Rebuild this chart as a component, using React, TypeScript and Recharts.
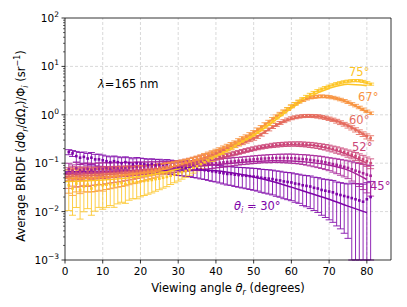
import React from "react";
import { ComposedChart, Line, Scatter, ErrorBar, XAxis, YAxis, ReferenceLine, Customized } from "recharts";

const FONT = "DejaVu Sans, sans-serif";
const Y_MIN = 0.001;
const Y_MAX = 100;
const X_MAX = 86.4;

// viewing angles of the measured points (1..81 deg) and of the model curves
const VIEW_ANGLES = Array.from({ length: 81 }, (_, i) => i + 1);
const MODEL_ANGLES = [0, 5, 10, 15, 20, 25, 30, 35, 40, 45, 50, 55, 60, 65, 70, 75, 80];

const X_TICKS = [0, 10, 20, 30, 40, 50, 60, 70, 80];
const Y_MAJOR = [0.001, 0.01, 0.1, 1, 10, 100];
const Y_MINOR = [
  0.002, 0.003, 0.004, 0.005, 0.006, 0.007, 0.008, 0.009,
  0.02, 0.03, 0.04, 0.05, 0.06, 0.07, 0.08, 0.09,
  0.2, 0.3, 0.4, 0.5, 0.6, 0.7, 0.8, 0.9,
  2, 3, 4, 5, 6, 7, 8, 9,
  20, 30, 40, 50, 60, 70, 80, 90,
];

// theta_i = 30
const BRIDF_30 = [
  0.17, 0.16, 0.14, 0.13, 0.135, 0.125, 0.13, 0.12, 0.12, 0.115,
  0.11, 0.105, 0.11, 0.105, 0.1, 0.105, 0.1, 0.095, 0.1, 0.098,
  0.095, 0.092, 0.095, 0.09, 0.092, 0.088, 0.09, 0.087, 0.085, 0.083,
  0.082, 0.08, 0.08, 0.078, 0.076, 0.074, 0.072, 0.07, 0.068, 0.066,
  0.064, 0.062, 0.06, 0.06, 0.058, 0.057, 0.056, 0.055, 0.054, 0.053,
  0.052, 0.05, 0.049, 0.048, 0.047, 0.045, 0.044, 0.042, 0.041, 0.04,
  0.038, 0.037, 0.035, 0.034, 0.033, 0.031, 0.03, 0.028, 0.027, 0.026,
  0.025, 0.023, 0.022, 0.021, 0.02, 0.019, 0.018, 0.017, 0.016, 0.018, 0.02,
];
const ERR_30 = [
  0.12, 0.14, 0.25, 0.28, 0.26, 0.27, 0.28, 0.27, 0.28, 0.28,
  0.28, 0.29, 0.28, 0.29, 0.3, 0.29, 0.3, 0.3, 0.31, 0.3,
  0.31, 0.31, 0.3, 0.32, 0.31, 0.32, 0.32, 0.33, 0.32, 0.33,
  0.33, 0.34, 0.34, 0.35, 0.35, 0.36, 0.36, 0.37, 0.38, 0.38,
  0.39, 0.4, 0.41, 0.42, 0.43, 0.44, 0.45, 0.46, 0.47, 0.48,
  0.49, 0.5, 0.51, 0.52, 0.53, 0.54, 0.55, 0.56, 0.57, 0.58,
  0.59, 0.6, 0.62, 0.63, 0.65, 0.66, 0.68, 0.7, 0.72, 0.74,
  0.76, 0.78, 0.8, 0.83, 0.86, 1.05, 1.1, 1.2, 1.3, 1.2, 1.1,
];
const MODEL_30 = [0.066, 0.067, 0.068, 0.069, 0.07, 0.071, 0.072, 0.072, 0.07, 0.062, 0.052, 0.042, 0.032, 0.024, 0.018, 0.013, 0.0095];

// theta_i = 45
const BRIDF_45 = [
  0.075, 0.07, 0.078, 0.072, 0.074, 0.076, 0.073, 0.075, 0.077, 0.076,
  0.078, 0.077, 0.079, 0.078, 0.08, 0.079, 0.081, 0.08, 0.082, 0.081,
  0.083, 0.082, 0.084, 0.083, 0.085, 0.084, 0.086, 0.085, 0.087, 0.088,
  0.089, 0.09, 0.091, 0.092, 0.093, 0.094, 0.095, 0.097, 0.098, 0.1,
  0.102, 0.104, 0.106, 0.108, 0.11, 0.112, 0.114, 0.116, 0.118, 0.12,
  0.122, 0.124, 0.125, 0.126, 0.127, 0.128, 0.128, 0.128, 0.128, 0.127,
  0.126, 0.124, 0.122, 0.12, 0.117, 0.114, 0.111, 0.108, 0.104, 0.1,
  0.096, 0.092, 0.088, 0.084, 0.08, 0.075, 0.07, 0.066, 0.062, 0.058, 0.055,
];
const ERR_45 = [
  0.33, 0.32, 0.34, 0.33, 0.32, 0.33, 0.34, 0.33, 0.32, 0.33,
  0.32, 0.31, 0.32, 0.31, 0.3, 0.31, 0.3, 0.29, 0.3, 0.29,
  0.28, 0.29, 0.28, 0.27, 0.28, 0.27, 0.26, 0.27, 0.26, 0.25,
  0.25, 0.24, 0.24, 0.23, 0.23, 0.22, 0.22, 0.21, 0.21, 0.2,
  0.2, 0.2, 0.19, 0.19, 0.19, 0.18, 0.18, 0.18, 0.18, 0.18,
  0.18, 0.18, 0.18, 0.19, 0.19, 0.19, 0.2, 0.2, 0.21, 0.21,
  0.22, 0.22, 0.23, 0.24, 0.25, 0.26, 0.27, 0.28, 0.29, 0.3,
  0.32, 0.34, 0.36, 0.38, 0.4, 0.43, 0.46, 0.5, 0.54, 0.58, 0.62,
];
const MODEL_45 = [0.062, 0.064, 0.066, 0.069, 0.072, 0.076, 0.08, 0.086, 0.093, 0.101, 0.108, 0.112, 0.111, 0.104, 0.091, 0.072, 0.046];

// theta_i = 52
const BRIDF_52 = [
  0.062, 0.066, 0.064, 0.065, 0.063, 0.066, 0.064, 0.065, 0.066, 0.067,
  0.067, 0.068, 0.068, 0.069, 0.07, 0.07, 0.071, 0.072, 0.073, 0.074,
  0.075, 0.076, 0.077, 0.078, 0.08, 0.081, 0.083, 0.085, 0.087, 0.089,
  0.091, 0.094, 0.097, 0.1, 0.104, 0.108, 0.112, 0.117, 0.122, 0.128,
  0.134, 0.14, 0.147, 0.154, 0.161, 0.168, 0.176, 0.184, 0.192, 0.2,
  0.208, 0.215, 0.222, 0.228, 0.234, 0.239, 0.243, 0.246, 0.248, 0.25,
  0.25, 0.249, 0.247, 0.244, 0.24, 0.235, 0.229, 0.222, 0.215, 0.207,
  0.198, 0.189, 0.18, 0.17, 0.16, 0.15, 0.14, 0.13, 0.12, 0.11, 0.1,
];
const ERR_52 = [
  0.3, 0.28, 0.3, 0.29, 0.3, 0.28, 0.29, 0.28, 0.27, 0.28,
  0.27, 0.26, 0.26, 0.25, 0.25, 0.24, 0.24, 0.23, 0.22, 0.22,
  0.21, 0.21, 0.2, 0.19, 0.19, 0.18, 0.17, 0.17, 0.16, 0.15,
  0.15, 0.14, 0.14, 0.13, 0.13, 0.12, 0.12, 0.11, 0.11, 0.1,
  0.1, 0.1, 0.09, 0.09, 0.09, 0.09, 0.09, 0.09, 0.09, 0.09,
  0.09, 0.09, 0.09, 0.09, 0.1, 0.1, 0.1, 0.1, 0.1, 0.1,
  0.1, 0.11, 0.11, 0.11, 0.12, 0.12, 0.12, 0.13, 0.13, 0.14,
  0.14, 0.15, 0.15, 0.16, 0.17, 0.18, 0.19, 0.2, 0.21, 0.22, 0.23,
];
const MODEL_52 = [0.058, 0.06, 0.063, 0.066, 0.071, 0.077, 0.086, 0.099, 0.12, 0.15, 0.19, 0.225, 0.24, 0.235, 0.2, 0.15, 0.1];

// theta_i = 60
const BRIDF_60 = [
  0.052, 0.056, 0.054, 0.055, 0.057, 0.055, 0.056, 0.058, 0.057, 0.058,
  0.059, 0.06, 0.061, 0.062, 0.063, 0.064, 0.065, 0.066, 0.068, 0.069,
  0.071, 0.073, 0.075, 0.077, 0.079, 0.082, 0.085, 0.088, 0.092, 0.096,
  0.1, 0.105, 0.11, 0.116, 0.122, 0.129, 0.137, 0.146, 0.155, 0.165,
  0.176, 0.188, 0.2, 0.214, 0.228, 0.244, 0.26, 0.28, 0.3, 0.32,
  0.35, 0.39, 0.44, 0.5, 0.56, 0.62, 0.68, 0.74, 0.8, 0.85,
  0.89, 0.92, 0.94, 0.95, 0.95, 0.94, 0.93, 0.9, 0.87, 0.83,
  0.79, 0.74, 0.69, 0.64, 0.59, 0.54, 0.49, 0.44, 0.4, 0.36, 0.33,
];
const ERR_60 = [
  0.42, 0.4, 0.41, 0.4, 0.39, 0.4, 0.38, 0.39, 0.37, 0.38,
  0.36, 0.35, 0.35, 0.34, 0.33, 0.32, 0.31, 0.3, 0.29, 0.28,
  0.27, 0.26, 0.25, 0.24, 0.23, 0.22, 0.21, 0.2, 0.19, 0.18,
  0.17, 0.16, 0.15, 0.14, 0.13, 0.12, 0.11, 0.1, 0.1, 0.09,
  0.09, 0.08, 0.08, 0.08, 0.07, 0.07, 0.07, 0.07, 0.07, 0.07,
  0.07, 0.07, 0.07, 0.07, 0.07, 0.07, 0.07, 0.07, 0.07, 0.07,
  0.07, 0.07, 0.07, 0.07, 0.07, 0.07, 0.08, 0.08, 0.08, 0.08,
  0.08, 0.09, 0.09, 0.09, 0.1, 0.1, 0.1, 0.11, 0.11, 0.12, 0.12,
];
const MODEL_60 = [0.053, 0.055, 0.057, 0.061, 0.066, 0.075, 0.09, 0.115, 0.155, 0.22, 0.33, 0.55, 0.82, 0.93, 0.83, 0.6, 0.36];

// theta_i = 67
const BRIDF_67 = [
  0.048, 0.045, 0.05, 0.047, 0.049, 0.05, 0.048, 0.05, 0.051, 0.05,
  0.052, 0.053, 0.054, 0.055, 0.056, 0.057, 0.058, 0.06, 0.061, 0.063,
  0.065, 0.067, 0.069, 0.071, 0.074, 0.077, 0.08, 0.084, 0.088, 0.092,
  0.097, 0.103, 0.109, 0.116, 0.124, 0.133, 0.143, 0.154, 0.166, 0.18,
  0.195, 0.212, 0.23, 0.25, 0.27, 0.3, 0.33, 0.36, 0.4, 0.44,
  0.5, 0.56, 0.64, 0.72, 0.82, 0.93, 1.05, 1.18, 1.32, 1.5,
  1.68, 1.85, 2.0, 2.15, 2.27, 2.35, 2.4, 2.42, 2.4, 2.35,
  2.27, 2.18, 2.07, 1.95, 1.82, 1.68, 1.55, 1.42, 1.3, 1.18, 1.08,
];
const ERR_67 = [
  0.5, 0.52, 0.49, 0.5, 0.48, 0.49, 0.47, 0.48, 0.46, 0.47,
  0.45, 0.44, 0.43, 0.42, 0.41, 0.4, 0.38, 0.37, 0.36, 0.34,
  0.33, 0.31, 0.3, 0.28, 0.27, 0.25, 0.24, 0.22, 0.21, 0.19,
  0.18, 0.16, 0.15, 0.14, 0.13, 0.12, 0.11, 0.1, 0.09, 0.08,
  0.07, 0.07, 0.07, 0.07, 0.07, 0.07, 0.07, 0.07, 0.07, 0.07,
  0.07, 0.07, 0.07, 0.07, 0.07, 0.07, 0.07, 0.07, 0.07, 0.07,
  0.06, 0.06, 0.06, 0.06, 0.06, 0.06, 0.06, 0.06, 0.06, 0.06,
  0.06, 0.06, 0.06, 0.06, 0.06, 0.06, 0.06, 0.06, 0.06, 0.06, 0.06,
];
const MODEL_67 = [0.048, 0.049, 0.051, 0.055, 0.061, 0.071, 0.088, 0.115, 0.16, 0.25, 0.42, 0.8, 1.45, 2.2, 2.3, 1.8, 1.12];

// theta_i = 75
const BRIDF_75 = [
  0.035, 0.03, 0.038, 0.028, 0.033, 0.036, 0.03, 0.034, 0.037, 0.035,
  0.036, 0.037, 0.035, 0.038, 0.039, 0.037, 0.04, 0.041, 0.04, 0.042,
  0.043, 0.044, 0.045, 0.047, 0.048, 0.05, 0.052, 0.055, 0.058, 0.061,
  0.065, 0.069, 0.074, 0.08, 0.087, 0.095, 0.104, 0.114, 0.125, 0.138,
  0.152, 0.168, 0.186, 0.206, 0.228, 0.253, 0.28, 0.31, 0.345, 0.385,
  0.43, 0.49, 0.56, 0.64, 0.74, 0.86, 1.0, 1.15, 1.32, 1.5,
  1.7, 1.92, 2.15, 2.4, 2.65, 2.9, 3.15, 3.4, 3.65, 3.9,
  4.15, 4.4, 4.6, 4.8, 4.95, 5.05, 5.1, 5.05, 4.9, 4.6, 4.3,
];
const ERR_75 = [
  0.7, 0.72, 0.68, 0.75, 0.7, 0.68, 0.72, 0.7, 0.67, 0.68,
  0.66, 0.64, 0.65, 0.62, 0.6, 0.6, 0.57, 0.55, 0.54, 0.52,
  0.5, 0.48, 0.46, 0.44, 0.41, 0.39, 0.37, 0.34, 0.32, 0.3,
  0.28, 0.26, 0.24, 0.22, 0.2, 0.18, 0.16, 0.15, 0.13, 0.12,
  0.11, 0.1, 0.09, 0.08, 0.08, 0.07, 0.07, 0.06, 0.06, 0.06,
  0.05, 0.05, 0.05, 0.05, 0.05, 0.05, 0.05, 0.05, 0.05, 0.05,
  0.05, 0.05, 0.05, 0.05, 0.05, 0.05, 0.05, 0.05, 0.05, 0.05,
  0.05, 0.05, 0.05, 0.05, 0.05, 0.05, 0.05, 0.05, 0.05, 0.05, 0.05,
];
const MODEL_75 = [0.042, 0.043, 0.045, 0.048, 0.053, 0.062, 0.076, 0.1, 0.14, 0.22, 0.37, 0.7, 1.35, 2.4, 3.5, 4.3, 4.0];

const SERIES = [
  { key: "30", color: "#7e03a8", vals: BRIDF_30, err: ERR_30, model: MODEL_30 },
  { key: "45", color: "#a62098", vals: BRIDF_45, err: ERR_45, model: MODEL_45 },
  { key: "52", color: "#cb4679", vals: BRIDF_52, err: ERR_52, model: MODEL_52 },
  { key: "60", color: "#e56b5d", vals: BRIDF_60, err: ERR_60, model: MODEL_60 },
  { key: "67", color: "#f89441", vals: BRIDF_67, err: ERR_67, model: MODEL_67 },
  { key: "75", color: "#fdc527", vals: BRIDF_75, err: ERR_75, model: MODEL_75 },
];

const points = (vals: number[], rel: number[]) =>
  VIEW_ANGLES.map((x, i) => {
    const y = vals[i];
    const e = y * rel[i];
    return { x, y, e: [Math.min(e, y - Y_MIN), e] };
  });

const curve = (vals: number[]) => MODEL_ANGLES.map((x, i) => ({ x, y: vals[i] }));

const sup = (n: number) => (n < 0 ? "\u2212" + -n : String(n));

const YTick = (props: any) => {
  const { x, y, payload } = props;
  const lg = Math.log10(payload.value);
  const exp = Math.round(lg);
  const major = Math.abs(lg - exp) < 1e-6;
  return (
    <g>
      <line x1={x} x2={x - (major ? 3.5 : 2)} y1={y} y2={y} stroke="#000" strokeWidth={major ? 0.8 : 0.6} />
      {major && (
        <text x={x - 6} y={y + 4} textAnchor="end" fontSize={10.5} fontFamily={FONT} fill="#000">
          10<tspan dy={-5} fontSize={7.5}>{sup(exp)}</tspan>
        </text>
      )}
    </g>
  );
};

const XTick = (props: any) => {
  const { x, y, payload } = props;
  return (
    <g>
      <line x1={x} x2={x} y1={y} y2={y + 3.5} stroke="#000" strokeWidth={0.8} />
      <text x={x} y={y + 15} textAnchor="middle" fontSize={10.5} fontFamily={FONT} fill="#000">
        {payload.value}
      </text>
    </g>
  );
};

const Annotations = () => (
  <g fontFamily={FONT} fontSize={11.5}>
    <text x={98} y={88} fill="#000">
      <tspan fontStyle="italic">λ</tspan>=165 nm
    </text>
    <text x={349} y={76} fill={SERIES[5].color}>75°</text>
    <text x={358} y={101} fill={SERIES[4].color}>67°</text>
    <text x={349} y={124} fill={SERIES[3].color}>60°</text>
    <text x={352} y={151} fill={SERIES[2].color}>52°</text>
    <text x={370} y={190} fill={SERIES[1].color}>45°</text>
    <text x={234} y={210} fill={SERIES[0].color}>
      <tspan fontStyle="italic">θ</tspan>
      <tspan fontStyle="italic" fontSize={8} dy={2.5}>i</tspan>
      <tspan dy={-2.5}> = 30°</tspan>
    </text>
    <text x={228} y={292} textAnchor="middle" fill="#000">
      Viewing angle <tspan fontStyle="italic">θ</tspan>
      <tspan fontStyle="italic" fontSize={8} dy={2.5}>r</tspan>
      <tspan dy={-2.5}> (degrees)</tspan>
    </text>
    <text transform="translate(25,146) rotate(-90)" textAnchor="middle" fill="#000">
      Average BRIDF (<tspan fontStyle="italic">d</tspan>Φ
      <tspan fontStyle="italic" fontSize={8} dy={2.5}>r</tspan>
      <tspan dy={-2.5}>/</tspan>
      <tspan fontStyle="italic">d</tspan>Ω
      <tspan fontStyle="italic" fontSize={8} dy={2.5}>r</tspan>
      <tspan dy={-2.5}>)/Φ</tspan>
      <tspan fontStyle="italic" fontSize={8} dy={2.5}>i</tspan>
      <tspan dy={-2.5}> (sr</tspan>
      <tspan fontSize={8} dy={-5}>−1</tspan>
      <tspan dy={5}>)</tspan>
    </text>
  </g>
);

export default function App() {
  const grid = { stroke: "#cfcfcf", strokeDasharray: "3 2", strokeWidth: 0.8 };
  return (
    <div style={{ position: "absolute", left: 0, top: 0, background: "#fff" }}>
      <ComposedChart width={407} height={307} margin={{ top: 18, right: 16, bottom: 0, left: 0 }}>
        <XAxis
          dataKey="x"
          type="number"
          domain={[0, X_MAX]}
          ticks={X_TICKS}
          interval={0}
          allowDataOverflow
          height={47}
          tickSize={0}
          tickMargin={0}
          tickLine={false}
          tick={<XTick />}
          axisLine={{ stroke: "#000", strokeWidth: 0.8 }}
        />
        <YAxis
          type="number"
          scale="log"
          domain={[Y_MIN, Y_MAX]}
          ticks={[...Y_MAJOR, ...Y_MINOR]}
          interval={0}
          allowDataOverflow
          width={65}
          tickSize={0}
          tickMargin={0}
          tickLine={false}
          tick={<YTick />}
          axisLine={{ stroke: "#000", strokeWidth: 0.8 }}
        />
        {X_TICKS.slice(1).map((t) => (
          <ReferenceLine key={"gx" + t} x={t} {...grid} />
        ))}
        {Y_MAJOR.slice(1, -1).map((t) => (
          <ReferenceLine key={"gy" + t} y={t} {...grid} />
        ))}
        {SERIES.map((s) => (
          <Scatter
            key={"p" + s.key}
            data={points(s.vals, s.err)}
            dataKey="y"
            isAnimationActive={false}
            shape={(p: any) => <rect x={p.cx - 1.3} y={p.cy - 1.3} width={2.6} height={2.6} fill={s.color} />}
          >
            <ErrorBar dataKey="e" direction="y" width={3.5} stroke={s.color} strokeWidth={1} strokeOpacity={0.85} isAnimationActive={false} />
          </Scatter>
        ))}
        {SERIES.map((s) => (
          <Line
            key={"m" + s.key}
            data={curve(s.model)}
            dataKey="y"
            type="monotone"
            stroke={s.color}
            strokeWidth={1.5}
            dot={false}
            isAnimationActive={false}
          />
        ))}
        <ReferenceLine y={Y_MAX} stroke="#000" strokeWidth={0.8} ifOverflow="visible" />
        <ReferenceLine x={X_MAX} stroke="#000" strokeWidth={0.8} ifOverflow="visible" />
        <Customized component={<Annotations />} />
      </ComposedChart>
    </div>
  );
}
